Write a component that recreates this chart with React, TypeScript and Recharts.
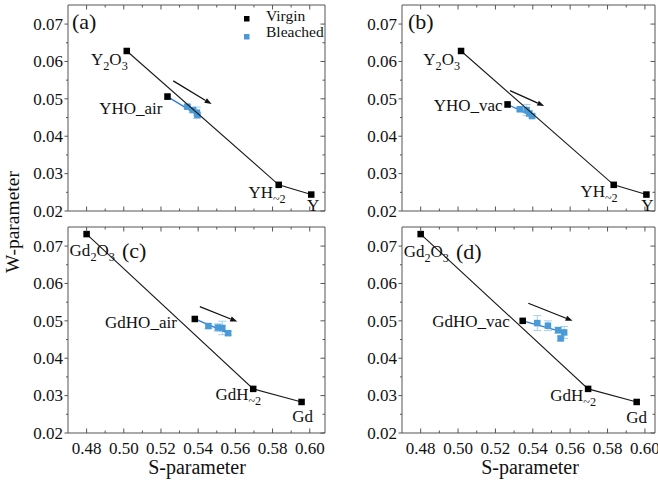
import React from 'react';
import { ScatterChart, Scatter, XAxis, YAxis, ErrorBar, ReferenceLine, Legend } from 'recharts';

const FONT = "'Liberation Serif', 'Times New Roman', Times, serif";
const BLUE = '#4a9ad8';
const BLUE_LINE = '#2a78e4';
const ERR_BLUE = '#a6cfef';
const FRAME = '#555555';
const INK = '#111111';

// ---- ticks ----
const xTicks = [0.48, 0.49, 0.5, 0.51, 0.52, 0.53, 0.54, 0.55, 0.56, 0.57, 0.58, 0.59, 0.6];
const yTicks = [0.02, 0.025, 0.03, 0.035, 0.04, 0.045, 0.05, 0.055, 0.06, 0.065, 0.07];
const yDomain: [number, number] = [0.02, 0.0751];

// ---- reference materials (Virgin) ----
const yRefLabels = ['Y{2}O{3}', 'YH{~2}', 'Y'];
const yRefS = [0.5016, 0.5833, 0.6008];
const yRefW = [0.0628, 0.027, 0.0244];
const gdRefLabels = ['Gd{2}O{3}', 'GdH{~2}', 'Gd'];
const gdRefS = [0.48, 0.5696, 0.5956];
const gdRefW = [0.0732, 0.0318, 0.0283];

// ---- oxyhydride samples (Virgin) ----
const sampleNames = ['YHO_air', 'YHO_vac', 'GdHO_air', 'GdHO_vac'];
const virginS = [0.5235, 0.5265, 0.5382, 0.5346];
const virginW = [0.0506, 0.0485, 0.0505, 0.05];
const virginErr = [0.0007, 0.0007, 0.0004, 0.0004];

// ---- bleached ----
const bleachedA_S = [0.5342, 0.5371, 0.5393, 0.5396];
const bleachedA_W = [0.0479, 0.047, 0.0463, 0.0457];
const bleachedA_E = [0.0005, 0.0005, 0.0015, 0.0005];
const bleachedB_S = [0.5331, 0.5367, 0.5381, 0.5396];
const bleachedB_W = [0.0472, 0.047, 0.0461, 0.0454];
const bleachedB_E = [0.0005, 0.0015, 0.0006, 0.0005];
const bleachedC_S = [0.5455, 0.5506, 0.553, 0.5561];
const bleachedC_W = [0.0486, 0.0482, 0.0481, 0.0467];
const bleachedC_E = [0.0006, 0.001, 0.0018, 0.0005];
const bleachedD_S = [0.5424, 0.5481, 0.5536, 0.5549, 0.5568];
const bleachedD_W = [0.0494, 0.0487, 0.0475, 0.0453, 0.0469];
const bleachedD_E = [0.002, 0.0013, 0.0008, 0.0006, 0.0016];

// ---- arrows (start S, end S / start W, end W) ----
const arrowS = [[0.5266, 0.5472], [0.5278, 0.5461], [0.5409, 0.561], [0.5376, 0.5613]];
const arrowW = [[0.0548, 0.0486], [0.0522, 0.0481], [0.0538, 0.0498], [0.0547, 0.05]];

const panelLetters = ['(a)', '(b)', '(c)', '(d)'];
const legendItems = [
  { name: 'Virgin', color: '#000000' },
  { name: 'Bleached', color: BLUE },
];

// ---- layout / style (not data) ----
type LblStyle = { dx: number; dy: number; anchor: 'start' | 'middle' | 'end' };
const panels = [
  {
    left: 0, top: 0, width: 330, height: 230,
    margin: { top: 4, right: 4, bottom: 14, left: 8 }, yAxisW: 60, xAxisH: 5,
    xDomain: [0.47, 0.6082] as [number, number], showX: false,
    refStyle: [
      { dx: 1, dy: 14, anchor: 'end' }, { dx: 7, dy: 13, anchor: 'end' }, { dx: 2, dy: 16, anchor: 'middle' },
    ] as LblStyle[],
    sampleStyle: { dx: -5, dy: 17, anchor: 'end' } as LblStyle,
  },
  {
    left: 330, top: 0, width: 328, height: 230,
    margin: { top: 4, right: 2, bottom: 14, left: 12 }, yAxisW: 60, xAxisH: 5,
    xDomain: [0.47, 0.6054] as [number, number], showX: false,
    refStyle: [
      { dx: -1, dy: 14, anchor: 'end' }, { dx: 4, dy: 12, anchor: 'end' }, { dx: 1, dy: 16, anchor: 'middle' },
    ] as LblStyle[],
    sampleStyle: { dx: -5, dy: 7, anchor: 'end' } as LblStyle,
  },
  {
    left: 0, top: 216, width: 330, height: 267,
    margin: { top: 10, right: 4, bottom: 20, left: 8 }, yAxisW: 60, xAxisH: 30,
    xDomain: [0.47, 0.6082] as [number, number], showX: true,
    refStyle: [
      { dx: -17, dy: 22, anchor: 'start' }, { dx: 8, dy: 11, anchor: 'end' }, { dx: 1, dy: 20, anchor: 'middle' },
    ] as LblStyle[],
    sampleStyle: { dx: -18, dy: 9, anchor: 'end' } as LblStyle,
  },
  {
    left: 330, top: 216, width: 328, height: 267,
    margin: { top: 10, right: 2, bottom: 20, left: 12 }, yAxisW: 60, xAxisH: 30,
    xDomain: [0.47, 0.6054] as [number, number], showX: true,
    refStyle: [
      { dx: -17, dy: 23, anchor: 'start' }, { dx: 8, dy: 12, anchor: 'end' }, { dx: 0, dy: 21, anchor: 'middle' },
    ] as LblStyle[],
    sampleStyle: { dx: -13, dy: 6, anchor: 'end' } as LblStyle,
  },
];

// ---- helpers ----
function RichText({ x, y, text, anchor, size = 17 }: { x: number; y: number; text: string; anchor: string; size?: number }) {
  const parts: { t: string; sub: boolean }[] = [];
  const re = /\{([^}]*)\}/g;
  let last = 0;
  let m: RegExpExecArray | null;
  while ((m = re.exec(text)) !== null) {
    if (m.index > last) parts.push({ t: text.slice(last, m.index), sub: false });
    parts.push({ t: m[1], sub: true });
    last = m.index + m[0].length;
  }
  if (last < text.length) parts.push({ t: text.slice(last), sub: false });
  let down = false;
  return (
    <text x={x} y={y} textAnchor={anchor as any} fontFamily={FONT} fontSize={size} fill={INK}>
      {parts.map((p, k) => {
        let dy = 0;
        if (p.sub && !down) { dy = 5; down = true; }
        else if (!p.sub && down) { dy = -5; down = false; }
        return (
          <tspan key={k} dy={dy} fontSize={p.sub ? size * 0.72 : size}>{p.t}</tspan>
        );
      })}
    </text>
  );
}

function makeTick(orient: 'bottom' | 'top' | 'left' | 'right', showLabel: boolean) {
  return (props: any) => {
    const { x, y, payload } = props;
    const v = payload.value as number;
    const isY = orient === 'left' || orient === 'right';
    const major = isY ? Math.round(v * 1000) % 10 === 0 : Math.round(v * 100) % 2 === 0;
    const len = major ? 4.5 : 2.5;
    let line: React.ReactNode = null;
    let label: React.ReactNode = null;
    if (orient === 'bottom') {
      line = <line x1={x} y1={y} x2={x} y2={y - len} stroke={FRAME} strokeWidth={1} />;
      if (showLabel && major)
        label = (
          <text x={x} y={y + 21} textAnchor="middle" fontFamily={FONT} fontSize={17} fill={INK}>
            {v.toFixed(2)}
          </text>
        );
    } else if (orient === 'top') {
      line = <line x1={x} y1={y} x2={x} y2={y + len} stroke={FRAME} strokeWidth={1} />;
    } else if (orient === 'left') {
      line = <line x1={x} y1={y} x2={x - (major ? 3.5 : 2)} y2={y} stroke={FRAME} strokeWidth={1} />;
      if (showLabel && major)
        label = (
          <text x={x - 5} y={y} dy="0.34em" textAnchor="end" fontFamily={FONT} fontSize={17} fill={INK}>
            {v.toFixed(2)}
          </text>
        );
    } else {
      line = <line x1={x} y1={y} x2={x - len} y2={y} stroke={FRAME} strokeWidth={1} />;
    }
    return (
      <g>
        {line}
        {label}
      </g>
    );
  };
}

function ArrowShape(props: any) {
  const { x1, y1, x2, y2 } = props;
  if (x1 == null || x2 == null) return <g />;
  const ang = Math.atan2(y2 - y1, x2 - x1);
  const hl = 7;
  const hw = 2.6;
  const bx = x2 - hl * Math.cos(ang);
  const by = y2 - hl * Math.sin(ang);
  const px = -Math.sin(ang) * hw;
  const py = Math.cos(ang) * hw;
  return (
    <g>
      <line x1={x1} y1={y1} x2={bx} y2={by} stroke="#111" strokeWidth={1.3} />
      <polygon points={`${x2},${y2} ${bx + px},${by + py} ${bx - px},${by - py}`} fill="#111" />
    </g>
  );
}

function Panel({ idx }: { idx: number }) {
  const cfg = panels[idx];
  const isY = idx < 2;
  const refLabels = isY ? yRefLabels : gdRefLabels;
  const refS = isY ? yRefS : gdRefS;
  const refW = isY ? yRefW : gdRefW;
  const refData = refS.map((s, i) => ({ x: s, y: refW[i], label: refLabels[i], i }));
  const bS = [bleachedA_S, bleachedB_S, bleachedC_S, bleachedD_S][idx];
  const bW = [bleachedA_W, bleachedB_W, bleachedC_W, bleachedD_W][idx];
  const bE = [bleachedA_E, bleachedB_E, bleachedC_E, bleachedD_E][idx];
  const bleachedData = bS.map((s, i) => ({ x: s, y: bW[i], err: bE[i] }));
  const virginData = [{ x: virginS[idx], y: virginW[idx], err: virginErr[idx], label: sampleNames[idx] }];
  let lastI = 0;
  bS.forEach((s, i) => { if (s > bS[lastI]) lastI = i; });
  const blueLineData = [
    { x: virginS[idx], y: virginW[idx] },
    { x: bS[lastI], y: bW[lastI] },
  ];

  const refShape = (p: any) => {
    const { cx, cy, payload } = p;
    if (cx == null || cy == null) return <g />;
    const st = cfg.refStyle[payload.i];
    return (
      <g>
        <rect x={cx - 3.25} y={cy - 3.25} width={6.5} height={6.5} fill="#000" />
        <RichText x={cx + st.dx} y={cy + st.dy} text={payload.label} anchor={st.anchor} />
      </g>
    );
  };
  const virginShape = (p: any) => {
    const { cx, cy, payload } = p;
    if (cx == null || cy == null) return <g />;
    const st = cfg.sampleStyle;
    return (
      <g>
        <rect x={cx - 3.25} y={cy - 3.25} width={6.5} height={6.5} fill="#000" />
        <RichText x={cx + st.dx} y={cy + st.dy} text={payload.label} anchor={st.anchor} />
      </g>
    );
  };
  const blueShape = (p: any) => {
    const { cx, cy } = p;
    if (cx == null || cy == null) return <g />;
    return <rect x={cx - 3.25} y={cy - 3.25} width={6.5} height={6.5} fill={BLUE} />;
  };
  const noShape = () => <g />;

  return (
    <div style={{ position: 'absolute', left: cfg.left, top: cfg.top }}>
      <ScatterChart width={cfg.width} height={cfg.height} margin={cfg.margin}>
        <XAxis
          xAxisId={0} type="number" dataKey="x" domain={cfg.xDomain} allowDataOverflow
          ticks={xTicks} interval={0} height={cfg.xAxisH} tickSize={0} tickMargin={0}
          tickLine={false} axisLine={{ stroke: FRAME, strokeWidth: 1 }}
          tick={makeTick('bottom', cfg.showX)}
        />
        <XAxis
          xAxisId="top" orientation="top" type="number" dataKey="x" domain={cfg.xDomain} allowDataOverflow
          ticks={xTicks} interval={0} height={1} tickSize={0} tickMargin={0}
          tickLine={false} axisLine={{ stroke: FRAME, strokeWidth: 1 }}
          tick={makeTick('top', false)}
        />
        <YAxis
          yAxisId={0} type="number" dataKey="y" domain={yDomain} allowDataOverflow
          ticks={yTicks} interval={0} width={cfg.yAxisW} tickSize={0} tickMargin={0}
          tickLine={false} axisLine={{ stroke: FRAME, strokeWidth: 1 }}
          tick={makeTick('left', true)}
        />
        <YAxis
          yAxisId="right" orientation="right" type="number" dataKey="y" domain={yDomain} allowDataOverflow
          ticks={yTicks} interval={0} width={1} tickSize={0} tickMargin={0}
          tickLine={false} axisLine={{ stroke: FRAME, strokeWidth: 1 }}
          tick={makeTick('right', false)}
        />
        <Scatter
          data={blueLineData} line={{ stroke: BLUE_LINE, strokeWidth: 1.3 }} shape={noShape}
          isAnimationActive={false} legendType="none"
        />
        <Scatter data={bleachedData} name="Bleached" fill={BLUE} shape={blueShape} isAnimationActive={false}>
          <ErrorBar dataKey="err" direction="y" width={4} stroke={ERR_BLUE} strokeWidth={1} isAnimationActive={false} />
        </Scatter>
        <Scatter
          data={refData} name="Virgin" fill="#000" line={{ stroke: '#1a1a1a', strokeWidth: 1.1 }}
          shape={refShape} isAnimationActive={false}
        />
        <Scatter data={virginData} fill="#000" shape={virginShape} isAnimationActive={false} legendType="none">
          <ErrorBar dataKey="err" direction="y" width={3} stroke="#888" strokeWidth={1} isAnimationActive={false} />
        </Scatter>
        <ReferenceLine
          segment={[
            { x: arrowS[idx][0], y: arrowW[idx][0] },
            { x: arrowS[idx][1], y: arrowW[idx][1] },
          ]}
          shape={ArrowShape}
          ifOverflow="visible"
        />
        {idx === 0 && (
          <Legend
            layout="vertical" align="center" verticalAlign="middle"
            wrapperStyle={{ position: 'absolute', left: 238, top: 5, width: 90, height: 40 }}
            content={() => (
              <svg width={90} height={40}>
                {legendItems.map((it, k) => (
                  <g key={it.name}>
                    <rect x={6} y={11 + k * 18} width={5.5} height={5.5} fill={it.color} />
                    <text x={28} y={15.5 + k * 16.5} fontFamily={FONT} fontSize={15.5} fill={INK}>
                      {it.name}
                    </text>
                  </g>
                ))}
              </svg>
            )}
          />
        )}
      </ScatterChart>
    </div>
  );
}

const letterPos = [
  { x: 72, y: 29 },
  { x: 408, y: 29 },
  { x: 122, y: 258 },
  { x: 456, y: 259 },
];

export default function App() {
  return (
    <div style={{ position: 'absolute', left: 0, top: 0, width: 658, height: 483, background: '#fff', overflow: 'hidden' }}>
      {panels.map((_, i) => (
        <Panel key={i} idx={i} />
      ))}
      <svg width={658} height={483} style={{ position: 'absolute', left: 0, top: 0, pointerEvents: 'none' }}>
        {panelLetters.map((l, i) => (
          <text key={l} x={letterPos[i].x} y={letterPos[i].y} fontFamily={FONT} fontSize={22} fill={INK}>
            {l}
          </text>
        ))}
        <text x={19} y={222} transform="rotate(-90 19 222)" textAnchor="middle" fontFamily={FONT} fontSize={19.5} fill={INK}>
          W-parameter
        </text>
        <text x={197} y={474} textAnchor="middle" fontFamily={FONT} fontSize={20} fill={INK}>
          S-parameter
        </text>
        <text x={530} y={474} textAnchor="middle" fontFamily={FONT} fontSize={20} fill={INK}>
          S-parameter
        </text>
      </svg>
    </div>
  );
}
